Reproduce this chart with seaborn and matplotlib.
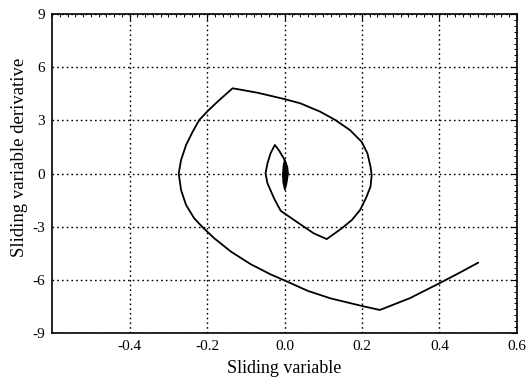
import numpy as np
import pandas as pd
import matplotlib
matplotlib.use("Agg")
import matplotlib.pyplot as plt
from matplotlib.ticker import MultipleLocator
import seaborn as sns

# Trajectory (sliding variable s, derivative ds/dt)
s_vals = [0.500, 0.450, 0.400, 0.323, 0.246, 0.199, 0.118, 0.060, 0.007, -0.036,
          -0.087, -0.138, -0.181, -0.211, -0.233, -0.254, -0.267, -0.273, -0.267,
          -0.254, -0.237, -0.220, -0.198, -0.173, -0.134, -0.070, 0.000, 0.041,
          0.092, 0.131, 0.169, 0.199, 0.214, 0.222, 0.225, 0.222, 0.210, 0.195,
          0.174, 0.148, 0.109, 0.075, 0.037, -0.010, -0.027, -0.044, -0.049,
          -0.044, -0.036, -0.025, -0.015, -0.002, 0.007, 0.009, 0.005, 0.001,
          -0.003, -0.004, -0.002, 0.001, 0.005, 0.006, 0.003, 0.000, -0.002,
          -0.001, 0.001, 0.003, 0.002, 0.000]
ds_vals = [-5.03, -5.62, -6.19, -7.04, -7.70, -7.47, -7.04, -6.62, -6.10, -5.69,
           -5.12, -4.41, -3.66, -3.04, -2.53, -1.78, -0.93, 0.00, 0.76,
           1.61, 2.36, 3.02, 3.53, 4.05, 4.81, 4.56, 4.20, 3.96,
           3.49, 3.02, 2.45, 1.79, 1.14, 0.38, -0.08, -0.74, -1.40, -2.06,
           -2.62, -3.09, -3.70, -3.37, -2.81, -2.10, -1.40, -0.55, 0.00,
           0.57, 1.14, 1.61, 1.33, 0.86, 0.38, 0.00, -0.55, -0.90,
           -0.50, 0.00, 0.50, 0.75, 0.35, -0.10, -0.50, -0.60, -0.20,
           0.30, 0.45, 0.10, -0.30, 0.00]

x_ticks = [-0.4, -0.2, 0.0, 0.2, 0.4, 0.6]
x_tick_labels = ["-0.4", "-0.2", "0.0", "0.2", "0.4", "0.6"]
y_ticks = [-9, -6, -3, 0, 3, 6, 9]
y_tick_labels = ["-9", "-6", "-3", "0", "3", "6", "9"]

df = pd.DataFrame({"s": s_vals, "ds": ds_vals})

sns.set_theme(style="white")
plt.rcParams["font.family"] = ["Liberation Serif", "DejaVu Serif"]

fig = plt.figure(figsize=(5.27, 3.87), dpi=100)
ax = fig.add_axes([0.0987, 0.1395, 0.8823, 0.8243])

sns.lineplot(data=df, x="s", y="ds", sort=False, estimator=None,
             color="black", linewidth=1.3, ax=ax)

ax.set_xlim(-0.6, 0.6)
ax.set_ylim(-9, 9)
ax.set_xticks(x_ticks)
ax.set_xticklabels(x_tick_labels)
ax.set_yticks(y_ticks)
ax.set_yticklabels(y_tick_labels)
ax.xaxis.set_minor_locator(MultipleLocator(0.02))
ax.yaxis.set_minor_locator(MultipleLocator(1/3))

ax.tick_params(which="both", direction="in", top=True, right=True,
               color="black", labelsize=11, labelcolor="black")
ax.tick_params(which="major", length=4, width=0.8, pad=5)
ax.tick_params(which="minor", length=2.5, width=0.7)

ax.grid(True, which="major", color="black", linestyle=(0, (1.2, 2.2)),
        linewidth=1.0)
for sp in ax.spines.values():
    sp.set_color("black")
    sp.set_linewidth(1.2)

ax.set_xlabel("Sliding variable", fontsize=13, color="black", labelpad=5)
ax.set_ylabel("Sliding variable derivative", fontsize=13.5, color="black")
ax.yaxis.set_label_coords(-0.052, 0.55)

fig.savefig("out.png", dpi=100)
